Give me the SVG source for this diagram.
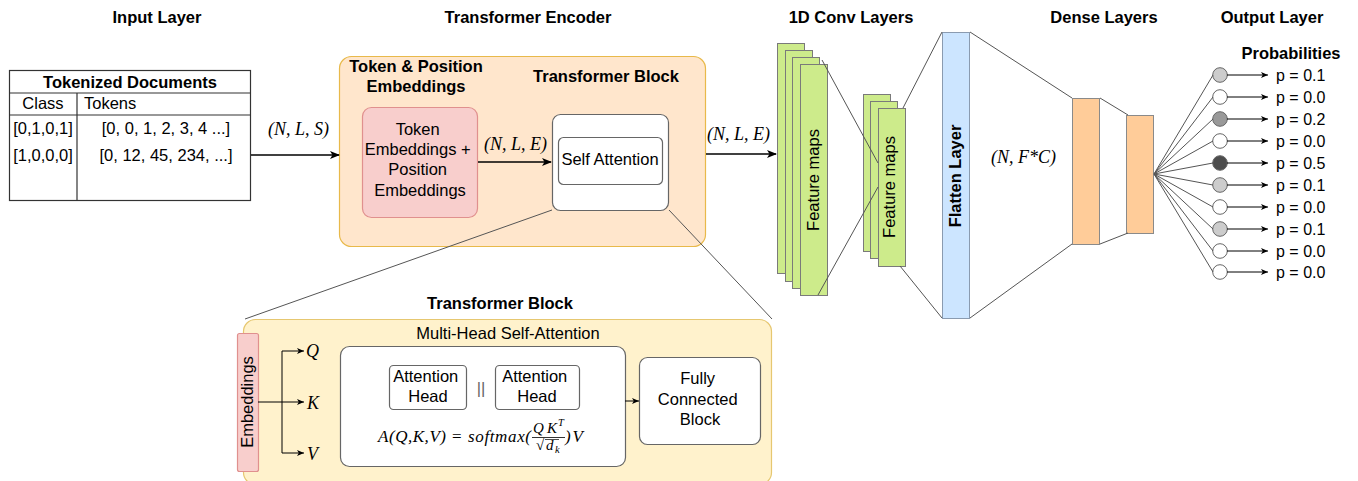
<svg xmlns="http://www.w3.org/2000/svg" width="1358" height="481" viewBox="0 0 1358 481">
  <defs>
    <style>
      .s { font-family: "Liberation Sans", Arial, sans-serif; fill: #000; }
      .b { font-family: "Liberation Sans", Arial, sans-serif; font-weight: bold; fill: #000; }
      .m { font-family: "Liberation Serif", "Times New Roman", serif; font-style: italic; fill: #000; }
      .up { font-style: normal; }
      .ln { stroke: #000; stroke-width: 1.3; fill: none; }
      .thin { stroke: #555; stroke-width: 1; fill: none; }
      .green { fill: #cdeb8b; stroke: #7a7a7a; stroke-width: 1; }
      .dense { fill: #ffcc99; stroke: #8a8a8a; stroke-width: 1; }
      .white { fill: #fff; stroke: #666; stroke-width: 1.2; }
      .node { stroke: #666; stroke-width: 1; }
      .sep { font-family: "Liberation Sans", Arial, sans-serif; fill: #666; }
    </style>
    <marker id="arr" markerWidth="10" markerHeight="8" refX="9" refY="4" orient="auto" markerUnits="userSpaceOnUse">
      <path d="M0,0 L10,4 L0,8 L2.5,4 Z" fill="#000"/>
    </marker>
    <marker id="arrs" markerWidth="7" markerHeight="6" refX="7" refY="3" orient="auto" markerUnits="userSpaceOnUse">
      <path d="M0,0 L7,3 L0,6 L1.8,3 Z" fill="#000"/>
    </marker>
  </defs>

  <!-- column headings -->
  <g id="headings" font-size="16.5" text-anchor="middle">
    <text class="b" x="157" y="23">Input Layer</text>
    <text class="b" x="528" y="23">Transformer Encoder</text>
    <text class="b" x="851" y="23">1D Conv Layers</text>
    <text class="b" x="1104" y="23">Dense Layers</text>
    <text class="b" x="1272" y="23">Output Layer</text>
  </g>

  <!-- input table -->
  <g id="input-table">
    <rect x="9.5" y="70.5" width="241" height="130" fill="#fff" stroke="#333" stroke-width="1.2"/>
    <line x1="9.5" y1="93" x2="250.5" y2="93" stroke="#333" stroke-width="1.2"/>
    <line x1="9.5" y1="115" x2="250.5" y2="115" stroke="#333" stroke-width="1.2"/>
    <line x1="77" y1="93" x2="77" y2="200.5" stroke="#333" stroke-width="1.2"/>
    <text class="b" x="130" y="88" font-size="16.5" text-anchor="middle">Tokenized Documents</text>
    <text class="s" x="43" y="109" font-size="16.5" text-anchor="middle">Class</text>
    <text class="s" x="84" y="109" font-size="16.5">Tokens</text>
    <text class="s" x="43" y="134" font-size="16.5" text-anchor="middle">[0,1,0,1]</text>
    <text class="s" x="43" y="161" font-size="16.5" text-anchor="middle">[1,0,0,0]</text>
    <text class="s" x="166" y="134" font-size="16.5" text-anchor="middle">[0, 0, 1, 2, 3, 4 ...]</text>
    <text class="s" x="166" y="161" font-size="16.5" text-anchor="middle">[0, 12, 45, 234, ...]</text>
  </g>

  <!-- transformer encoder container -->
  <g id="encoder">
    <rect x="339.5" y="56.5" width="366" height="190" rx="12" fill="#ffe6cc" stroke="#e8b94a" stroke-width="1.2"/>
    <text class="b" x="416" y="72" font-size="16.5" text-anchor="middle">Token &amp; Position</text>
    <text class="b" x="416" y="92" font-size="16.5" text-anchor="middle">Embeddings</text>
    <text class="b" x="606" y="82" font-size="16.5" text-anchor="middle">Transformer Block</text>
  </g>

  <g id="token-embeddings">
    <rect x="362.5" y="107.5" width="115" height="110" rx="9" fill="#f8cecc" stroke="#e0908e" stroke-width="1.2"/>
    <text class="s" font-size="16.5" text-anchor="middle">
      <tspan x="420" y="135">Token</tspan>
      <tspan x="420" y="155">Embeddings +</tspan>
      <tspan x="420" y="175">Position</tspan>
      <tspan x="420" y="196">Embeddings</tspan>
    </text>
  </g>

  <g id="transformer-block">
    <rect x="552.5" y="114.5" width="116" height="96" rx="8" class="white"/>
    <rect x="558.5" y="137.5" width="104" height="47" rx="5" class="white"/>
    <text class="s" x="610" y="165" font-size="16.5" text-anchor="middle">Self Attention</text>
  </g>

  <!-- 1D convolution feature maps -->
  <g id="conv-1">
    <rect x="777.5" y="43.5" width="27" height="230" class="green"/>
    <rect x="785.5" y="50.5" width="27" height="231" class="green"/>
    <rect x="792.5" y="57.5" width="27" height="231" class="green"/>
    <rect x="800.5" y="64.5" width="27" height="231" class="green"/>
    <text class="s" font-size="16.5" text-anchor="middle" transform="translate(819,180) rotate(-90)">Feature maps</text>
  </g>
  <g id="conv-2">
    <rect x="863.5" y="94.5" width="27" height="157" class="green"/>
    <rect x="870.5" y="101.5" width="27" height="157" class="green"/>
    <rect x="878.5" y="108.5" width="27" height="158" class="green"/>
    <text class="s" font-size="16.5" text-anchor="middle" transform="translate(895,187) rotate(-90)">Feature maps</text>
  </g>

  <g id="flatten">
    <rect x="942.5" y="32.5" width="27" height="286" fill="#cce5ff" stroke="#8a9bb0" stroke-width="1"/>
    <text class="b" font-size="16.5" text-anchor="middle" transform="translate(961,176) rotate(-90)">Flatten Layer</text>
  </g>

  <g id="dense">
    <rect x="1072.5" y="98.5" width="27" height="146" class="dense"/>
    <rect x="1126.5" y="115.5" width="27" height="118" class="dense"/>
  </g>

  <!-- output neurons -->
  <g id="output">
    <text class="b" x="1291" y="59" font-size="16.5" text-anchor="middle">Probabilities</text>
    <circle cx="1220" cy="75" r="7.3" fill="#cccccc" class="node"/>
    <circle cx="1220" cy="97" r="7.3" fill="#ffffff" class="node"/>
    <circle cx="1220" cy="119" r="7.3" fill="#999999" class="node"/>
    <circle cx="1220" cy="141" r="7.3" fill="#ffffff" class="node"/>
    <circle cx="1220" cy="163" r="7.3" fill="#4d4d4d" class="node"/>
    <circle cx="1220" cy="185" r="7.3" fill="#cccccc" class="node"/>
    <circle cx="1220" cy="207" r="7.3" fill="#ffffff" class="node"/>
    <circle cx="1220" cy="229" r="7.3" fill="#cccccc" class="node"/>
    <circle cx="1220" cy="251" r="7.3" fill="#ffffff" class="node"/>
    <circle cx="1220" cy="272" r="7.3" fill="#ffffff" class="node"/>
    <g class="s" font-size="16">
      <text x="1276" y="81">p = 0.1</text>
      <text x="1276" y="103">p = 0.0</text>
      <text x="1276" y="125">p = 0.2</text>
      <text x="1276" y="147">p = 0.0</text>
      <text x="1276" y="169">p = 0.5</text>
      <text x="1276" y="191">p = 0.1</text>
      <text x="1276" y="213">p = 0.0</text>
      <text x="1276" y="235">p = 0.1</text>
      <text x="1276" y="257">p = 0.0</text>
      <text x="1276" y="278">p = 0.0</text>
    </g>
  </g>

  <!-- expanded transformer block -->
  <g id="block-detail">
    <rect x="243.5" y="319.5" width="528" height="165" rx="12" fill="#fff2cc" stroke="#e6c770" stroke-width="1.2"/>
    <text class="b" x="500" y="309" font-size="16.5" text-anchor="middle">Transformer Block</text>
    <text class="s" x="508" y="339" font-size="16.5" text-anchor="middle">Multi-Head Self-Attention</text>
  </g>
  <g id="embeddings">
    <rect x="237.5" y="333.5" width="21" height="138" rx="2" fill="#f8cecc" stroke="#e0908e" stroke-width="1.2"/>
    <text class="s" font-size="16.5" text-anchor="middle" transform="translate(253,402) rotate(-90)">Embeddings</text>
  </g>
  <g id="mhsa">
    <rect x="340.5" y="346.5" width="285" height="120" rx="9" class="white"/>
    <rect x="389.5" y="365.5" width="77" height="44" rx="4" class="white"/>
    <rect x="495.5" y="365.5" width="84" height="44" rx="4" class="white"/>
    <text class="s" font-size="16.5" text-anchor="middle">
      <tspan x="428" y="382">Attention</tspan>
      <tspan x="428" y="402">Head</tspan>
    </text>
    <text class="s" font-size="16.5" text-anchor="middle">
      <tspan x="537" y="382">Attention</tspan>
      <tspan x="537" y="402">Head</tspan>
    </text>
    <text class="sep" x="481" y="394" font-size="16.5" text-anchor="middle">||</text>
    <!-- scaled dot-product attention formula -->
    <g class="m">
      <text x="378" y="442" font-size="17" textLength="68" lengthAdjust="spacing">A(Q,K,V)</text>
      <text class="up" x="452" y="442" font-size="17">=</text>
      <text x="468" y="442" font-size="17" textLength="63" lengthAdjust="spacing">softmax(</text>
      <text x="533" y="433" font-size="15" textLength="24" lengthAdjust="spacing">QK</text>
      <text x="558" y="426" font-size="10.5">T</text>
      <line x1="532" y1="437.5" x2="565" y2="437.5" stroke="#000" stroke-width="0.8"/>
      <text class="up" x="536" y="450" font-size="15">√</text>
      <line x1="545" y1="439.5" x2="559" y2="439.5" stroke="#000" stroke-width="0.7"/>
      <text x="546" y="450" font-size="15">d</text>
      <text x="555" y="453" font-size="10.5">k</text>
      <text x="565" y="442" font-size="17" textLength="18" lengthAdjust="spacing">)V</text>
    </g>
  </g>
  <g id="fc-block">
    <rect x="639.5" y="357.5" width="121" height="87" rx="8" class="white"/>
    <text class="s" font-size="16.5" text-anchor="middle">
      <tspan x="700" y="384">Fully</tspan>
      <tspan x="700" y="405">Connected</tspan>
      <tspan x="700" y="425">Block</tspan>
    </text>
  </g>
  <g id="qkv-labels" class="m" font-size="18">
    <text x="306" y="357">Q</text>
    <text x="307" y="409">K</text>
    <text x="307" y="460">V</text>
  </g>

  <!-- connectors -->
  <g id="connectors">
    <path class="ln" d="M251,155 H339" marker-end="url(#arr)"/>
    <path class="ln" d="M478,162 H551" marker-end="url(#arr)"/>
    <path class="ln" d="M706,154 H776" marker-end="url(#arr)"/>
    <!-- zoom-out lines to the expanded block -->
    <line class="thin" x1="552" y1="210" x2="245" y2="319"/>
    <line class="thin" x1="669" y1="210" x2="772" y2="319"/>
    <!-- conv stack projections -->
    <line class="thin" x1="822" y1="60" x2="878" y2="163"/>
    <line class="thin" x1="818" y1="295" x2="878" y2="187"/>
    <line class="thin" x1="903" y1="108" x2="942" y2="32"/>
    <line class="thin" x1="900" y1="266" x2="942" y2="318"/>
    <line class="thin" x1="970" y1="32" x2="1072" y2="98"/>
    <line class="thin" x1="970" y1="318" x2="1072" y2="244"/>
    <line class="thin" x1="1100" y1="98" x2="1128" y2="115"/>
    <line class="thin" x1="1100" y1="244" x2="1128" y2="233"/>
    <!-- fan-out to output neurons -->
    <g class="thin">
      <line x1="1154" y1="174" x2="1213" y2="75"/>
      <line x1="1154" y1="174" x2="1213" y2="97"/>
      <line x1="1154" y1="174" x2="1213" y2="119"/>
      <line x1="1154" y1="174" x2="1213" y2="141"/>
      <line x1="1154" y1="174" x2="1213" y2="163"/>
      <line x1="1154" y1="174" x2="1213" y2="185"/>
      <line x1="1154" y1="174" x2="1213" y2="207"/>
      <line x1="1154" y1="174" x2="1213" y2="229"/>
      <line x1="1154" y1="174" x2="1213" y2="251"/>
      <line x1="1154" y1="174" x2="1213" y2="272"/>
    </g>
    <g stroke="#000" stroke-width="1" fill="none">
      <path d="M1227,75 H1268" marker-end="url(#arrs)"/>
      <path d="M1227,97 H1268" marker-end="url(#arrs)"/>
      <path d="M1227,119 H1268" marker-end="url(#arrs)"/>
      <path d="M1227,141 H1268" marker-end="url(#arrs)"/>
      <path d="M1227,163 H1268" marker-end="url(#arrs)"/>
      <path d="M1227,185 H1268" marker-end="url(#arrs)"/>
      <path d="M1227,207 H1268" marker-end="url(#arrs)"/>
      <path d="M1227,229 H1268" marker-end="url(#arrs)"/>
      <path d="M1227,251 H1268" marker-end="url(#arrs)"/>
      <path d="M1227,272 H1268" marker-end="url(#arrs)"/>
    </g>
    <!-- embeddings split into Q, K, V -->
    <g stroke="#000" stroke-width="1" fill="none">
      <path d="M258,402 H304" marker-end="url(#arrs)"/>
      <path d="M282,402 V351 H304" marker-end="url(#arrs)"/>
      <path d="M282,402 V453 H304" marker-end="url(#arrs)"/>
      <path d="M625,401 H639" marker-end="url(#arrs)"/>
    </g>
  </g>

  <!-- tensor shape labels -->
  <g id="shape-labels" class="m" font-size="18">
    <text x="268" y="135">(N, L, S)</text>
    <text x="484" y="150">(N, L, E)</text>
    <text x="707" y="140">(N, L, E)</text>
    <text x="991" y="163">(N, F*C)</text>
  </g>
</svg>
